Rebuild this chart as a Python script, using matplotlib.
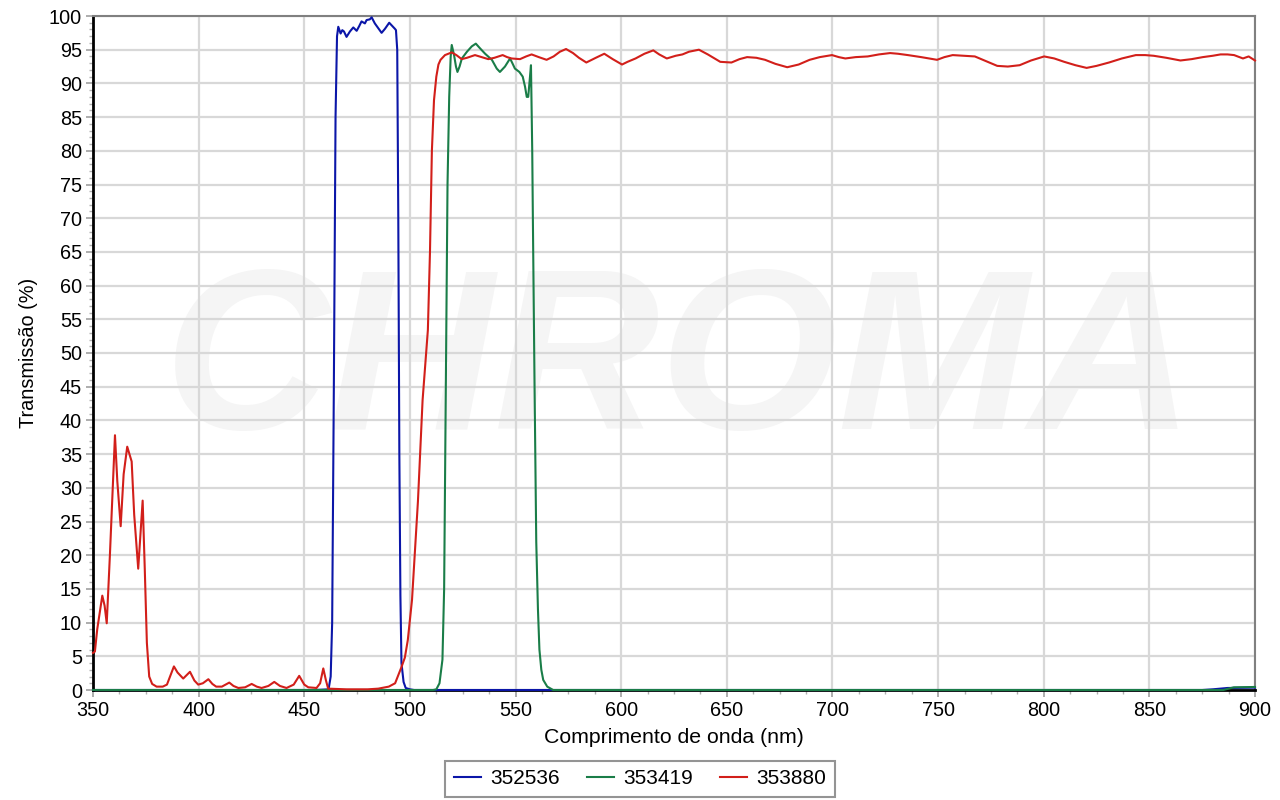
import matplotlib
matplotlib.use("Agg")
import matplotlib.pyplot as plt
from matplotlib.ticker import MultipleLocator

plt.rcParams['font.family'] = ['Liberation Sans', 'DejaVu Sans']

# ---- data ----
series_names = ["352536", "353419", "353880"]
series_colors = ["#0b16a8", "#1a7d48", "#d21f1a"]

wl_blue = [350, 455, 461.5, 462.5, 463.2, 464.0, 464.8, 465.5, 466.1, 467.2, 468.0, 468.8,
           470.0, 471.6, 473.2, 474.8, 476.0, 477.1, 478.7, 479.5, 481.0, 481.9, 483.4,
           485.0, 486.6, 488.2, 490.2, 491.4, 492.9, 493.4, 494.0, 494.5, 495.0, 495.5,
           496.0, 497.0, 498.0, 500.0, 502.0, 875.0, 880.0, 887.0, 900.0]
t_blue = [0, 0, 0.1, 2, 10, 45, 85, 97, 98.4, 97.4, 97.9, 97.7,
          96.9, 97.7, 98.3, 97.8, 98.5, 99.2, 98.9, 99.4, 99.5, 99.8, 98.9,
          98.2, 97.5, 98.1, 99.0, 98.6, 98.1, 97.9, 95, 70, 35, 14,
          4, 1.2, 0.3, 0.1, 0, 0, 0.1, 0.3, 0.35]

wl_green = [350, 511.0, 512.5, 514.0, 515.4, 516.2, 517.0, 517.8, 518.6, 519.3, 519.8, 520.9,
            521.8, 522.5, 523.5, 524.6, 527.0, 529.3, 531.2, 533.2, 535.6, 538.8, 541.1,
            542.6, 545.0, 547.4, 548.5, 549.7, 551.8, 553.4, 554.5, 555.3, 556.0, 556.7,
            557.3, 557.9, 558.2, 559.0, 559.8, 560.6, 561.3, 562.2, 563.1, 565.0, 567.8,
            885.0, 890.0, 900.0]
t_green = [0, 0, 0.1, 1, 4.5, 15, 45, 75, 88, 94, 95.7, 94.2,
           92.5, 91.7, 92.5, 93.7, 94.7, 95.5, 95.9, 95.2, 94.4, 93.5, 92.2,
           91.7, 92.5, 93.7, 93.0, 92.2, 91.7, 91.0, 89.5, 88.0, 88.0, 90.5,
           92.7, 80, 70, 45, 22, 12, 6, 3, 1.5, 0.5, 0,
           0, 0.4, 0.45]

wl_red = [350.0, 350.9, 352.0, 354.4, 355.5, 356.5, 358.0, 360.4, 361.5, 363.1, 364.5, 366.2,
          368.3, 369.5, 371.4, 373.5, 374.5, 375.5, 376.6, 378.0, 380.1, 383.0, 385.0,
          388.3, 390.0, 392.7, 395.9, 398.0, 399.8, 402.0, 404.6, 406.5, 408.3, 411.0,
          414.5, 416.5, 418.8, 422.0, 425.1, 427.5, 429.8, 433.0, 435.8, 438.5, 441.6,
          445.0, 447.6, 450.0, 451.9, 455.8, 457.5, 459.0, 460.2, 461.3, 470.0, 480.0,
          485.0, 490.0, 493.0, 496.0, 497.6, 499.0, 501.0, 503.8, 506.0, 508.5, 509.5,
          510.4, 511.4, 512.5, 513.5, 514.5, 516.6, 519.8, 522.0, 524.5, 527.0, 530.8,
          534.0, 537.1, 540.0, 543.9, 546.0, 548.1, 552.1, 555.0, 557.6, 561.0, 564.7,
          568.0, 571.0, 573.9, 577.2, 580.0, 583.5, 588.0, 592.0, 596.0, 600.4, 603.0,
          606.8, 611.0, 615.2, 618.0, 621.6, 625.8, 629.0, 632.1, 636.8, 641.0, 646.9,
          652.2, 656.0, 659.6, 664.0, 668.1, 673.0, 678.6, 684.0, 689.2, 694.0, 699.8,
          703.0, 706.1, 711.0, 716.7, 722.0, 727.3, 731.0, 735.7, 742.0, 749.5, 753.0,
          756.9, 762.0, 767.4, 772.0, 778.0, 783.0, 788.6, 794.0, 800.2, 805.0, 809.7,
          815.0, 820.3, 825.0, 830.9, 837.0, 843.6, 848.0, 852.0, 858.0, 864.7, 870.0,
          875.3, 880.0, 883.7, 887.0, 890.1, 894.3, 897.0, 900.0]
t_red = [5.5, 5.7, 9.0, 14.0, 12.5, 9.9, 20.0, 37.8, 31.0, 24.3, 32.0, 36.1,
         33.9, 26.0, 18.0, 28.1, 18.0, 7.0, 2.0, 0.9, 0.5, 0.5, 0.8,
         3.5, 2.6, 1.7, 2.7, 1.4, 0.8, 1.0, 1.6, 0.9, 0.5, 0.5,
         1.1, 0.6, 0.3, 0.4, 0.9, 0.5, 0.3, 0.6, 1.2, 0.6, 0.3,
         0.8, 2.1, 0.8, 0.4, 0.3, 1.0, 3.2, 1.5, 0.2, 0.1, 0.1,
         0.2, 0.5, 1.0, 3.4, 4.8, 7.4, 13.4, 28.0, 43.0, 53.4, 65.0,
         80.0, 87.5, 91.0, 92.8, 93.5, 94.2, 94.6, 94.2, 93.6, 93.8, 94.2,
         93.9, 93.6, 93.8, 94.2, 93.9, 93.7, 93.6, 94.0, 94.3, 93.9, 93.5,
         94.0, 94.7, 95.1, 94.5, 93.8, 93.1, 93.8, 94.4, 93.6, 92.8, 93.2,
         93.7, 94.4, 94.9, 94.3, 93.7, 94.1, 94.3, 94.7, 95.0, 94.3, 93.2,
         93.1, 93.6, 93.9, 93.8, 93.5, 92.9, 92.4, 92.8, 93.5, 93.9, 94.2,
         93.9, 93.7, 93.9, 94.0, 94.3, 94.5, 94.4, 94.2, 93.9, 93.5, 93.9,
         94.2, 94.1, 94.0, 93.4, 92.6, 92.5, 92.7, 93.4, 94.0, 93.7, 93.2,
         92.7, 92.3, 92.6, 93.1, 93.7, 94.2, 94.2, 94.1, 93.8, 93.4, 93.6,
         93.9, 94.1, 94.3, 94.3, 94.2, 93.7, 94.0, 93.4]

x_ticks = [350, 400, 450, 500, 550, 600, 650, 700, 750, 800, 850, 900]
y_ticks = list(range(0, 101, 5))
x_label = "Comprimento de onda (nm)"
y_label = "Transmissão (%)"

# ---- figure ----
fig = plt.figure(figsize=(12.8, 8.0), dpi=100)
ax = fig.add_axes([93 / 1280, 1 - 690 / 800, (1255 - 93) / 1280, (690 - 16) / 800])

# faint watermark
ax.text(0.505, 0.475, "CHROMA", transform=ax.transAxes, ha="center", va="center",
        fontsize=165, fontweight="bold", fontstyle="italic", color="#f5f5f5",
        zorder=0)

for wl, t, name, col in zip([wl_blue, wl_green, wl_red], [t_blue, t_green, t_red],
                            series_names, series_colors):
    ax.plot(wl, t, color=col, lw=1.5, label=name, zorder=4, clip_on=False,
            solid_joinstyle="round")

ax.set_xlim(350, 900)
ax.set_ylim(0, 100)
ax.set_xticks(x_ticks)
ax.set_yticks(y_ticks)
ax.xaxis.set_minor_locator(MultipleLocator(12.5))
ax.yaxis.set_minor_locator(MultipleLocator(1))
ax.grid(True, which="major", color="#d8d8d8", lw=1.6, zorder=1)
ax.set_axisbelow(True)

ax.tick_params(axis="both", which="major", labelsize=14.3, length=5, width=1.2,
               color="#a0a0a0", pad=3, labelcolor="black")
ax.tick_params(axis="both", which="minor", length=3, width=1.0, color="#b0b0b0")

for side in ("top", "right"):
    ax.spines[side].set_color("#808080")
    ax.spines[side].set_linewidth(1.5)
ax.spines["left"].set_color("black")
ax.spines["left"].set_linewidth(2.0)
ax.spines["bottom"].set_color("black")
ax.spines["bottom"].set_linewidth(2.0)

ax.set_xlabel(x_label, fontsize=15.3, labelpad=6)
ax.set_ylabel(y_label, fontsize=14.3, labelpad=8)

leg = fig.legend(loc="center", bbox_to_anchor=(0.5, 1 - 779 / 800), ncol=3,
                 fontsize=15, frameon=True, fancybox=False, shadow=False,
                 handlelength=1.3, handletextpad=0.45, columnspacing=1.3,
                 borderpad=0.42, borderaxespad=0.2, edgecolor="#7a7a7a")
leg.get_frame().set_linewidth(1.5)

fig.savefig("out.png", dpi=100)
